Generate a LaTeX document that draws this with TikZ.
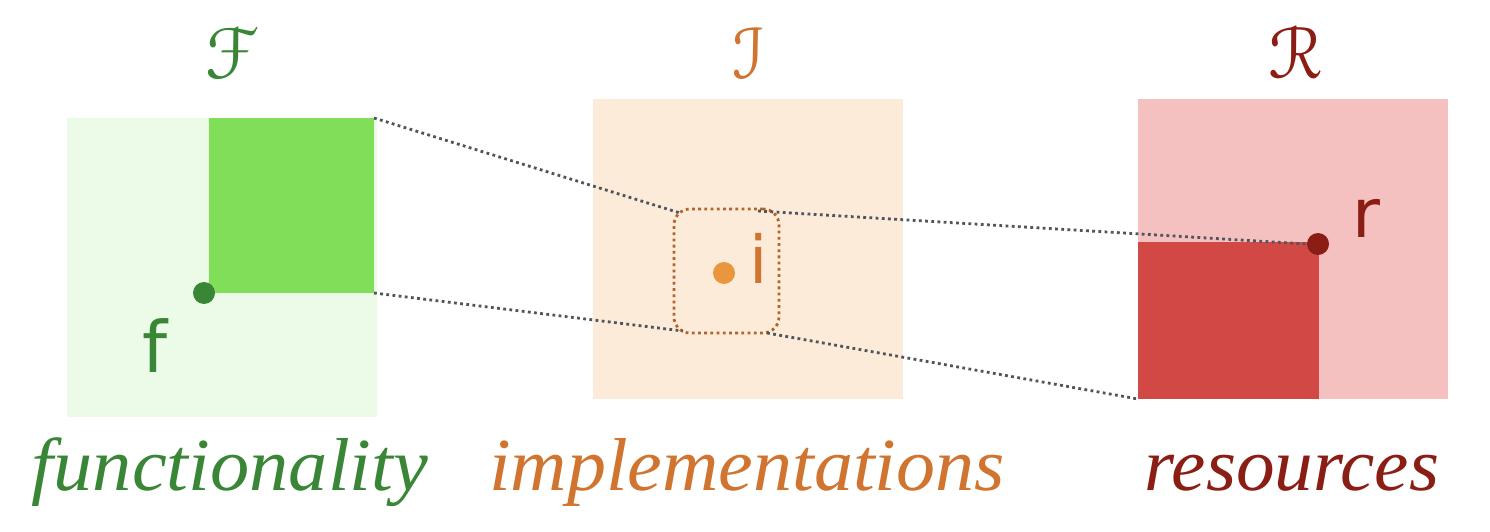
\documentclass[tikz,border=0pt]{standalone}
\usepackage[mathcal]{eucal}
\usepackage{fontspec}
\setmainfont{Liberation Serif}
\newfontfamily\lblfont{DejaVu Sans}
\definecolor{gLight}{HTML}{ECFBE7}
\definecolor{gMid}{HTML}{80DE59}
\definecolor{gDark}{HTML}{3A8637}
\definecolor{oLight}{HTML}{FCEBD9}
\definecolor{oDot}{HTML}{E9963D}
\definecolor{oText}{HTML}{D0742F}
\definecolor{oRect}{HTML}{B5632A}
\definecolor{rLight}{HTML}{F5C0C0}
\definecolor{rMid}{HTML}{D24845}
\definecolor{rDark}{HTML}{8B1E14}
\definecolor{lineGray}{HTML}{50555C}
\tikzset{
  area/.style={inner sep=0pt, outer sep=0pt, anchor=north west, draw=none},
  pt/.style={circle, inner sep=0pt, minimum size=22pt},
  dots/.style={line width=2.8pt, dash pattern=on 2.8pt off 3.4pt},
  conn/.style={lineGray, dots},
  title/.style={inner sep=0pt, anchor=base, font=\fontsize{74}{74}\selectfont},
  caption/.style={inner sep=0pt, anchor=base, font=\fontsize{75}{75}\selectfont\itshape},
  letter/.style={inner sep=0pt, anchor=base}
}
\begin{document}
\begin{tikzpicture}[x=1pt,y=-1pt]
\useasboundingbox (0,0) rectangle (1490,532);
% left: functionality
\node[area, fill=gLight, minimum width=310pt, minimum height=299pt] (Fbox) at (67,118) {};
\node[area, fill=gMid, minimum width=165pt, minimum height=175pt] (Fsub) at (209,118) {};
\node[pt, fill=gDark] (fdot) at (204,293) {};
\node[letter, gDark, font=\lblfont\fontsize{71}{71}\selectfont] (flab) at (155,372) {f};
\node[title, gDark] (Ftitle) at (231,79) {$\mathcal{F}$};
\node[caption, gDark] (Fcap) at (230,490) {\scalebox{1.045}[1]{functionality}};
% middle: implementations
\node[area, fill=oLight, minimum width=310pt, minimum height=300pt] (Ibox) at (593,99) {};
\node[area, draw=oRect, dots, rounded corners=16pt, minimum width=105pt, minimum height=124pt] (Irect) at (674,209) {};
\node[pt, fill=oDot] (idot) at (724,273) {};
\node[letter, oText, font=\lblfont\fontsize{66}{66}\selectfont] (ilab) at (759,283) {i};
\node[title, oText] (Ititle) at (748,79) {$\mathcal{I}$};
\node[caption, oText] (Icap) at (747,490) {\scalebox{1.04}[1]{implementations}};
% right: resources
\node[area, fill=rLight, minimum width=310pt, minimum height=300pt] (Rbox) at (1138,99) {};
\node[area, fill=rMid, minimum width=181pt, minimum height=157pt] (Rsub) at (1138,242) {};
\node[pt, fill=rDark] (rdot) at (1318,244) {};
\node[letter, rDark, font=\lblfont\fontsize{68}{68}\selectfont] (rlab) at (1366,237) {r};
\node[title, rDark] (Rtitle) at (1295,79) {$\mathcal{R}$};
\node[caption, rDark] (Rcap) at (1292,490) {\scalebox{1.03}[1]{resources}};
% connectors
\coordinate (a1) at (680,213);
\coordinate (a2) at (758,211);
\coordinate (b1) at (683,331);
\coordinate (b2) at (767,333);
\draw[conn] (Fsub.north east) -- (a1);
\draw[conn] (a2) -- (rdot.west);
\draw[conn] (Fsub.south east) -- (b1);
\draw[conn] (b2) -- (Rsub.south west);
\end{tikzpicture}
\end{document}
